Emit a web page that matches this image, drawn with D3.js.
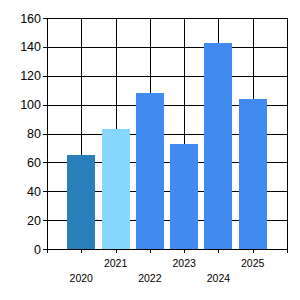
<!DOCTYPE html>
<html>
<head>
<meta charset="utf-8">
<script src="https://cdn.jsdelivr.net/npm/d3@7"></script>
<style>
  body { margin: 0; background: #fff; }
  svg { display: block; }
  text { font-family: Arial, "Liberation Sans", sans-serif; fill: #000; }
</style>
</head>
<body>
<div id="chart"></div>
<script>
let years = ['2020', '2021', '2022', '2023', '2024', '2025']
let values = [65, 83, 108, 73, 143, 104]
let colors = ['#2a7fba', '#87d6fd', '#418aef', '#418aef', '#418aef', '#418aef']
let yTicks = [0, 20, 40, 60, 80, 100, 120, 140, 160]

let margin = { top: 18, left: 47, right: 13, bottom: 51 }
let width = 300 - margin.left - margin.right
let height = 300 - margin.top - margin.bottom

let svg = d3.select('#chart')
  .append('svg')
  .attr('width', 300)
  .attr('height', 300)

let g = svg.append('g')
  .attr('transform', `translate(${margin.left},${margin.top})`)

// categories sit on the gridlines 1..6, with an empty slot at each end
let x = d3.scaleLinear().domain([0, years.length + 1]).range([0, width])
let y = d3.scaleLinear().domain([0, 160]).range([height, 0])

let barWidth = x(0.82) - x(0)

// bars first, grid drawn on top where it shows
g.selectAll('.bar')
  .data(values)
  .enter()
  .append('rect')
  .attr('class', 'bar')
  .attr('x', (d, i) => Math.round(x(i + 1) - barWidth / 2))
  .attr('y', d => Math.round(y(d)))
  .attr('width', Math.round(barWidth))
  .attr('height', d => height - Math.round(y(d)))
  .attr('fill', (d, i) => colors[i])

let grid = g.append('g').attr('class', 'grid')

grid.selectAll('.hline')
  .data(yTicks)
  .enter()
  .append('line')
  .attr('x1', -4)
  .attr('x2', width)
  .attr('y1', d => Math.round(y(d)) + 0.5)
  .attr('y2', d => Math.round(y(d)) + 0.5)
  .attr('stroke', '#000')

grid.selectAll('.vline')
  .data(d3.range(0, years.length + 2))
  .enter()
  .append('line')
  .attr('x1', d => Math.round(x(d)) + 0.5)
  .attr('x2', d => Math.round(x(d)) + 0.5)
  .attr('y1', 0)
  .attr('y2', height + 4)
  .attr('stroke', '#000')

// bars cover the grid inside them
g.selectAll('.bar').raise()

// y labels
g.selectAll('.ylabel')
  .data(yTicks)
  .enter()
  .append('text')
  .attr('class', 'ylabel')
  .attr('x', -6)
  .attr('y', d => y(d))
  .attr('dy', '0.36em')
  .attr('text-anchor', 'end')
  .attr('font-size', 12.5)
  .text(d => d)

// x labels, staggered on two rows
g.selectAll('.xlabel')
  .data(years)
  .enter()
  .append('text')
  .attr('class', 'xlabel')
  .attr('x', (d, i) => x(i + 1))
  .attr('y', (d, i) => i % 2 === 0 ? height + 33 : height + 18)
  .attr('text-anchor', 'middle')
  .attr('font-size', 10.5)
  .text(d => d)
</script>
</body>
</html>
